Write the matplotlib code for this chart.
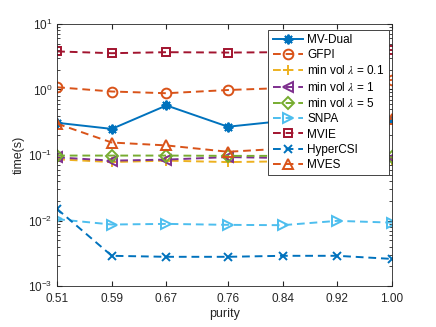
import matplotlib
matplotlib.use('Agg')
import matplotlib.pyplot as plt
from matplotlib.ticker import LogLocator, NullFormatter

plt.rcParams['font.family'] = ['Liberation Sans', 'DejaVu Sans']
plt.rcParams['mathtext.fontset'] = 'stix'

purity = [0.51, 0.59, 0.67, 0.76, 0.84, 0.92, 1.00]
purity_labels = ['0.51', '0.59', '0.67', '0.76', '0.84', '0.92', '1.00']

mv_dual = [0.31, 0.25, 0.57, 0.27, 0.33, 0.34, 0.35]
gfpi = [1.08, 0.93, 0.875, 0.98, 1.05, 1.1, 1.4]
minvol_01 = [0.086, 0.078, 0.082, 0.078, 0.08, 0.082, 0.085]
minvol_1 = [0.092, 0.082, 0.085, 0.093, 0.09, 0.09, 0.09]
minvol_5 = [0.098, 0.098, 0.098, 0.097, 0.097, 0.095, 0.092]
snpa = [0.0105, 0.0087, 0.0089, 0.0086, 0.0085, 0.0099, 0.0093]
mvie = [3.8, 3.57, 3.7, 3.65, 3.7, 3.8, 4.0]
hypercsi = [0.015, 0.0029, 0.0028, 0.0028, 0.0029, 0.0029, 0.0026]
mves = [0.30, 0.155, 0.14, 0.112, 0.125, 0.17, 0.36]

series = [
    ('MV-Dual', mv_dual, '#0072BD', '-', (8, 2, 0)),
    ('GFPI', gfpi, '#D95319', '--', 'o'),
    (r'min vol $\lambda$ = 0.1', minvol_01, '#EDB120', '--', '+'),
    (r'min vol $\lambda$ = 1', minvol_1, '#7E2F8E', '--', '<'),
    (r'min vol $\lambda$ = 5', minvol_5, '#77AC30', '--', 'D'),
    ('SNPA', snpa, '#4DBEEE', '--', '>'),
    ('MVIE', mvie, '#A2142F', '--', 's'),
    ('HyperCSI', hypercsi, '#0072BD', '--', 'x'),
    ('MVES', mves, '#D95319', '--', '^'),
]

fig = plt.figure(figsize=(4.36, 3.27), dpi=100)
ax = fig.add_axes([0.131, 0.125, 0.768, 0.802])

for name, vals, col, ls, mk in series:
    ms = 7
    if mk in ('D', 's', 'x'):
        ms = 6
    ax.plot(purity, vals, color=col, linestyle=ls, marker=mk, markersize=ms,
            markerfacecolor='none', markeredgewidth=1.4, linewidth=1.4,
            dashes=(4, 2.5) if ls == '--' else (None, None), label=name)

ax.set_yscale('log')
ax.set_ylim(1e-3, 10)
ax.set_xlim(0.51, 1.00)
ax.set_xticks(purity)
ax.set_xticklabels(purity_labels)
ax.yaxis.set_minor_locator(LogLocator(base=10, subs=range(2, 10)))
ax.yaxis.set_minor_formatter(NullFormatter())
ax.tick_params(which='both', direction='in', top=True, right=True, labelsize=8.5,
               color='#262626', labelcolor='#262626')
ax.tick_params(axis='x', pad=5)
ax.tick_params(which='major', length=3.5)
ax.tick_params(which='minor', length=2)
for sp in ax.spines.values():
    sp.set_color('#262626')
    sp.set_linewidth(0.6)

ax.set_xlabel('purity', fontsize=9, labelpad=2, color='#262626')
ax.set_ylabel('time(s)', fontsize=9, labelpad=2, color='#262626')

leg = ax.legend(loc='upper right', bbox_to_anchor=(0.99, 0.978), fontsize=8.5,
                frameon=True, fancybox=False, edgecolor='#262626', framealpha=1,
                handlelength=2.6, handletextpad=0.35, labelspacing=0.28,
                borderpad=0.35, borderaxespad=0)
leg.get_frame().set_linewidth(0.6)

fig.savefig('out.png', dpi=100)
